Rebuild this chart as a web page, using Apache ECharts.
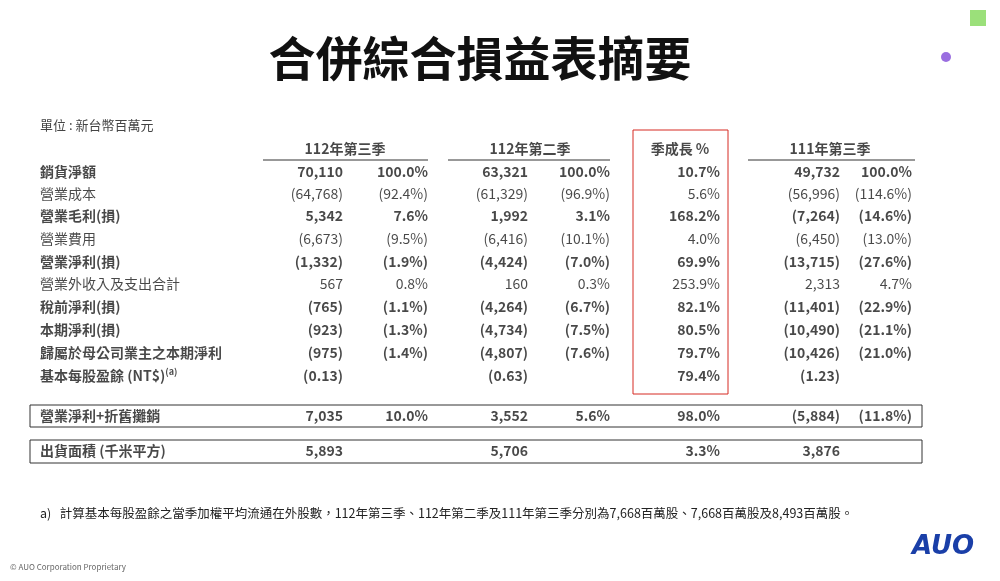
<!DOCTYPE html>
<html><head><meta charset="utf-8">
<script src="https://cdn.jsdelivr.net/npm/echarts@6/dist/echarts.min.js"></script>
<style>html,body{margin:0;padding:0;background:#fff}#c{width:1000px;height:581px}</style>
</head><body><div id="c"></div>
<script>
const rowLabels = ['銷貨淨額','營業成本','營業毛利(損)','營業費用','營業淨利(損)','營業外收入及支出合計','稅前淨利(損)','本期淨利(損)','歸屬於母公司業主之本期淨利','基本每股盈餘 (NT$){s|(a)}','營業淨利+折舊攤銷','出貨面積 (千米平方)'];
const boldRows = [true,false,true,false,true,false,true,true,true,true,true,true];
const q3_112 = ['70,110','(64,768)','5,342','(6,673)','(1,332)','567','(765)','(923)','(975)','(0.13)','7,035','5,893'];
const q3_112pct = ['100.0%','(92.4%)','7.6%','(9.5%)','(1.9%)','0.8%','(1.1%)','(1.3%)','(1.4%)','','10.0%',''];
const q2_112 = ['63,321','(61,329)','1,992','(6,416)','(4,424)','160','(4,264)','(4,734)','(4,807)','(0.63)','3,552','5,706'];
const q2_112pct = ['100.0%','(96.9%)','3.1%','(10.1%)','(7.0%)','0.3%','(6.7%)','(7.5%)','(7.6%)','','5.6%',''];
const qoq = ['10.7%','5.6%','168.2%','4.0%','69.9%','253.9%','82.1%','80.5%','79.7%','79.4%','98.0%','3.3%'];
const q3_111 = ['49,732','(56,996)','(7,264)','(6,450)','(13,715)','2,313','(11,401)','(10,490)','(10,426)','(1.23)','(5,884)','3,876'];
const q3_111pct = ['100.0%','(114.6%)','(14.6%)','(13.0%)','(27.6%)','4.7%','(22.9%)','(21.1%)','(21.0%)','','(11.8%)',''];
const headers = ['112年第三季','112年第二季','季成長 %','111年第三季'];

const rowY = [172,194,216,239,262,284,307,330,353,376,416,451];
const colX = [343,428,528,610,720,840,912];
const font = '"Noto Sans CJK TC","Noto Sans",sans-serif';
const cols = [q3_112,q3_112pct,q2_112,q2_112pct,qoq,q3_111,q3_111pct];

const series=[];
series.push({type:'scatter',symbolSize:0,silent:true,
  data:rowLabels.map((t,i)=>({value:[40,rowY[i]],t,label:{fontWeight:boldRows[i]?'bold':'normal'}})),
  label:{show:true,position:[0,0],align:'left',verticalAlign:'middle',formatter:p=>p.data.t,fontSize:14,color:'#1a1a1a',fontFamily:font,
    rich:{s:{fontSize:9,verticalAlign:'top',padding:[0,0,8,0],fontFamily:font,color:'#1a1a1a'}}}});
cols.forEach((c,ci)=>{
  series.push({type:'scatter',symbolSize:0,silent:true,
    data:c.map((t,i)=>({value:[colX[ci],rowY[i]],t,label:{fontWeight:boldRows[i]?'bold':'normal'}})),
    label:{show:true,position:[0,0],align:'right',verticalAlign:'middle',formatter:p=>p.data.t,fontSize:14,color:'#1a1a1a',fontFamily:font}});
});
const headerX=[345,530,680,830];
series.push({type:'scatter',symbolSize:0,silent:true,
  data:headers.map((t,i)=>({value:[headerX[i],149],t})),
  label:{show:true,position:[0,0],align:'center',verticalAlign:'middle',formatter:p=>p.data.t,fontSize:14,fontWeight:'bold',color:'#1a1a1a',fontFamily:font}});

const line=(x1,y1,x2,y2,c,w)=>({type:'line',shape:{x1,y1,x2,y2},style:{stroke:c||'#333',lineWidth:w||1}});
const rect=(x,y,w,h,c)=>({type:'rect',shape:{x,y,width:w,height:h},style:{fill:'none',stroke:c||'#333',lineWidth:1}});
const chart=echarts.init(document.getElementById('c'));
chart.setOption({
  animation:false,
  grid:{left:0,right:0,top:0,bottom:0},
  xAxis:{type:'value',min:0,max:1000,show:false},
  yAxis:{type:'value',min:0,max:581,inverse:true,show:false},
  graphic:[
    {type:'text',x:480,y:58,style:{text:'合併綜合損益表摘要',font:'bold 47px '+font,fill:'#111',align:'center',verticalAlign:'middle'}},
    {type:'text',left:40,top:119,style:{text:'單位 : 新台幣百萬元',font:'13px '+font,fill:'#444'}},
    line(263,160,428,160),line(448,160,610,160),line(748,160,915,160),
    rect(633,130,95,264,'#d62a22'),
    rect(30,405,892,22),rect(30,440,892,23),
    {type:'text',left:40,top:507,style:{text:'a)   計算基本每股盈餘之當季加權平均流通在外股數，112年第三季、112年第二季及111年第三季分別為7,668百萬股、7,668百萬股及8,493百萬股。',font:'12.5px '+font,fill:'#222'}},
    {type:'text',left:10,top:563,style:{text:'© AUO Corporation Proprietary',font:'8px '+font,fill:'#666'}},
    {type:'text',left:912,top:534,style:{text:'AUO',font:'italic bold 26px "DejaVu Sans",sans-serif',fill:'#1a3fa8'}},
    {type:'rect',shape:{x:970,y:10,width:16,height:16},style:{fill:'#9be07a'}},
    {type:'circle',shape:{cx:946,cy:57,r:5},style:{fill:'#9a6ee0'}}
  ],
  series
});
</script></body></html>
